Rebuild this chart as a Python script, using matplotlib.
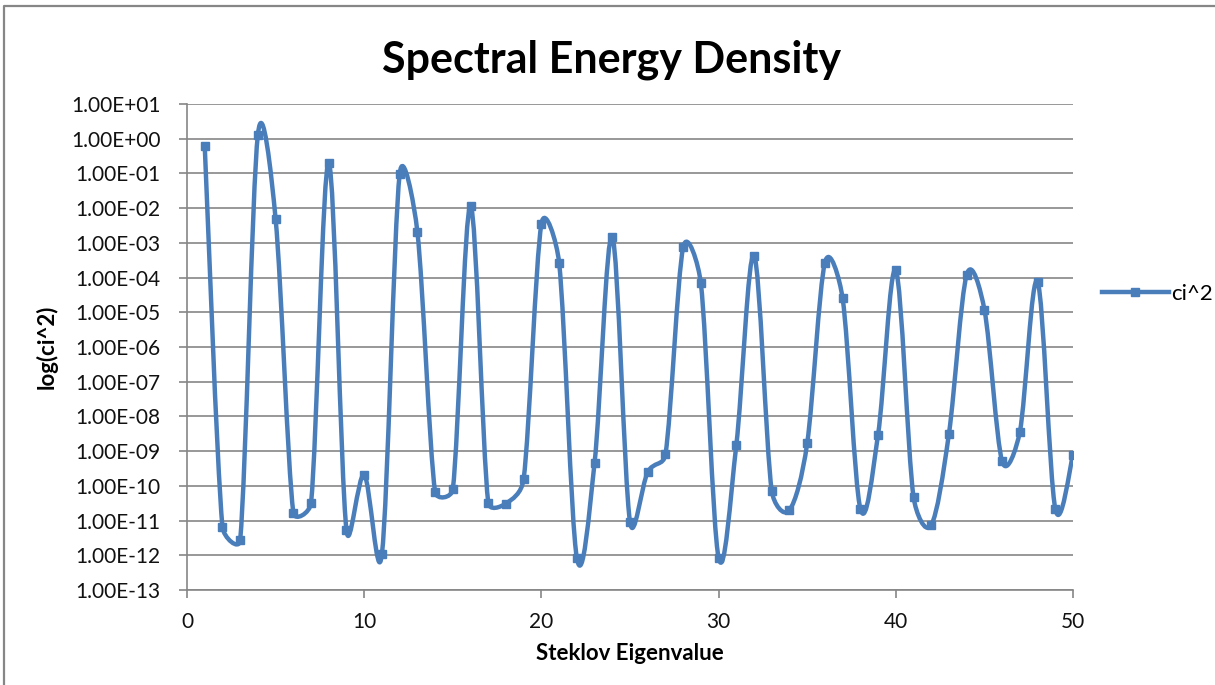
import numpy as np
import matplotlib
matplotlib.use("Agg")
import matplotlib.pyplot as plt
from matplotlib.path import Path
from matplotlib.patches import PathPatch
from matplotlib.lines import Line2D

plt.rcParams['font.family'] = ['Lato', 'DejaVu Sans']

# Steklov eigenvalue index and squared coefficients
eigen_idx = np.arange(1, 51)
ci2 = [6.3e-1, 6.6e-12, 2.7e-12, 1.3e0, 4.9e-3, 1.7e-11, 3.2e-11, 2.0e-1, 5.3e-12, 2.1e-10,
       1.1e-12, 9.4e-2, 2.1e-3, 6.7e-11, 7.9e-11, 1.15e-2, 3.3e-11, 3.1e-11, 1.6e-10, 3.5e-3,
       2.7e-4, 8.5e-13, 4.6e-10, 1.5e-3, 9.2e-12, 2.5e-10, 8.1e-10, 7.4e-4, 6.8e-5, 8.5e-13,
       1.5e-9, 4.3e-4, 7.1e-11, 2.0e-11, 1.7e-9, 2.7e-4, 2.5e-5, 2.2e-11, 3.0e-9, 1.6e-4,
       4.8e-11, 7.4e-12, 3.2e-9, 1.2e-4, 1.2e-5, 5.1e-10, 3.6e-9, 7.6e-5, 2.2e-11, 7.6e-10]

yticks = [10.0 ** k for k in range(1, -14, -1)]
ytick_labels = ["1.00E+01", "1.00E+00"] + ["1.00E-%02d" % k for k in range(1, 14)]

blue = "#4A7EBB"
grey = "#868686"

W, H = 1215, 685
ax_left, ax_right, ax_top, ax_bottom = 187, 1073, 104, 590

fig = plt.figure(figsize=(W / 100, H / 100), dpi=100)
ax = fig.add_axes([ax_left / W, 1 - ax_bottom / H, (ax_right - ax_left) / W, (ax_bottom - ax_top) / H])

xmin, xmax, dec_lo, dec_hi = 0, 50, -13, 1

# Excel-style smoothed line: Bezier segments, handles limited in screen space
sx = (ax_right - ax_left) / (xmax - xmin)
sy = (ax_bottom - ax_top) / (dec_hi - dec_lo)
P = np.column_stack([np.asarray(eigen_idx, float) * sx, np.log10(ci2) * sy])
n = len(P)
verts = [P[0]]
codes = [Path.MOVETO]
for i in range(n - 1):
    p0 = P[max(i - 1, 0)]
    p1 = P[i]
    p2 = P[i + 1]
    p3 = P[min(i + 2, n - 1)]
    d12 = np.hypot(*(p2 - p1))
    d02 = np.hypot(*(p2 - p0))
    d13 = np.hypot(*(p3 - p1))
    f1 = 1 / 6 if d02 / 6 < d12 / 2 else d12 / 2 / d02
    f2 = 1 / 6 if d13 / 6 < d12 / 2 else d12 / 2 / d13
    verts += [p1 + f1 * (p2 - p0), p2 - f2 * (p3 - p1), p2]
    codes += [Path.CURVE4] * 3
verts = np.array(verts)
verts = np.column_stack([verts[:, 0] / sx, 10 ** (verts[:, 1] / sy)])

ax.set_yscale("log")
ax.set_xlim(xmin, xmax)
ax.set_ylim(10.0 ** dec_lo, 10.0 ** dec_hi)

ax.add_patch(PathPatch(Path(verts, codes), facecolor="none", edgecolor=blue,
                       lw=3.2, capstyle="round", joinstyle="round", zorder=3))
ax.plot(eigen_idx, ci2, ls="none", marker="s", ms=6, color=blue, zorder=4)

ax.set_yticks(yticks)
ax.set_yticklabels(ytick_labels)
ax.yaxis.set_minor_locator(matplotlib.ticker.NullLocator())
ax.set_xticks(np.arange(0, 51, 10))
ax.grid(axis="y", color=grey, lw=1.2)
ax.set_axisbelow(True)

for s in ["top", "right"]:
    ax.spines[s].set_visible(False)
for s in ["left", "bottom"]:
    ax.spines[s].set_color(grey)
    ax.spines[s].set_linewidth(1.2)
ax.tick_params(axis="both", direction="out", length=6, width=1.2, color=grey,
               labelsize=15, labelcolor="#111111")
ax.tick_params(axis="y", pad=13)
ax.tick_params(axis="x", pad=10)

# title is centred on the whole chart area, as in Excel
fig.text(611 / W, 1 - 60 / H, "Spectral Energy Density", fontsize=31, fontweight="bold",
         ha="center", va="center")
ax.set_ylabel("log(ci^2)", fontsize=16, fontweight="bold", labelpad=10)
ax.set_xlabel("Steklov Eigenvalue", fontsize=16, fontweight="bold", labelpad=8)

handle = Line2D([], [], color=blue, lw=3.2, marker="s", ms=6)
ax.legend([handle], ["ci^2"], loc="center left", bbox_to_anchor=(1.01, 0.61),
          frameon=False, fontsize=16, handlelength=3.0, handletextpad=0.1)

# chart area border
fig.add_artist(Line2D([4 / W, 4 / W, 1], [0, 1 - 6 / H, 1 - 6 / H],
                      transform=fig.transFigure, color=grey, lw=1.6))

fig.savefig("out.png", dpi=100)
